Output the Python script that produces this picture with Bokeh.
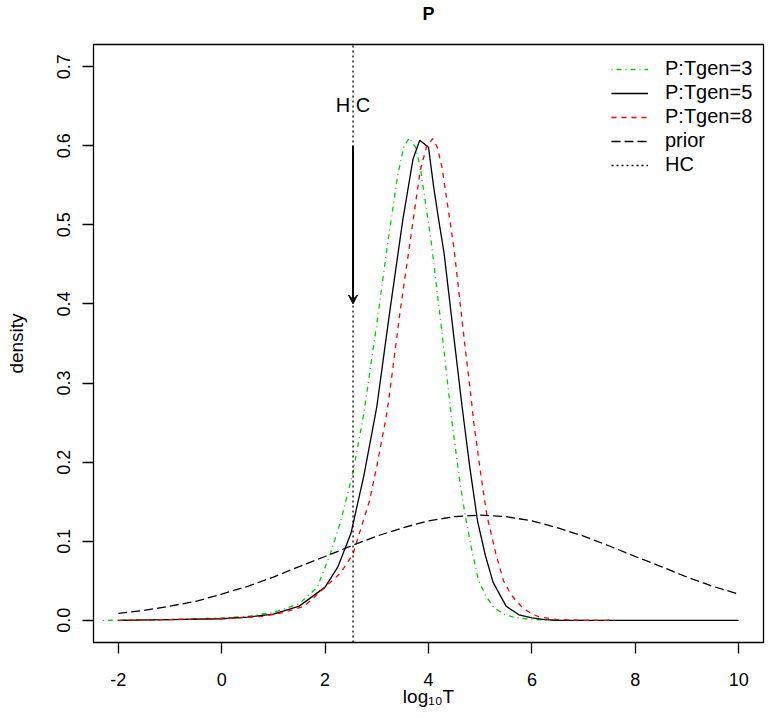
from bokeh.plotting import figure
from bokeh.models import (Range1d, FixedTicker, Arrow, VeeHead, Legend, LegendItem,
                          Title)
from bokeh.core.properties import value
from bokeh.embed import file_html
from bokeh.resources import INLINE

# ---- data ----
x_ticks = [-2, 0, 2, 4, 6, 8, 10]
y_ticks = [0.0, 0.1, 0.2, 0.3, 0.4, 0.5, 0.6, 0.7]
y_tick_labels = ["0.0", "0.1", "0.2", "0.3", "0.4", "0.5", "0.6", "0.7"]

HC = 2.54

tgen3_x = [-2.3, -1.0, 0.0, 0.5, 1.0, 1.5, 1.85, 2.1, 2.3, 2.54, 2.75, 3.0, 3.2, 3.4,
           3.52, 3.63, 3.75, 3.84, 4.05, 4.25, 4.45, 4.6, 4.71, 4.85, 4.97, 5.1, 5.26,
           5.45, 5.64, 6.0, 6.5, 7.0, 7.6]
tgen3_y = [0.0, 0.001, 0.003, 0.005, 0.010, 0.021, 0.042, 0.084, 0.125, 0.187, 0.262,
           0.375, 0.472, 0.561, 0.598, 0.610, 0.598, 0.573, 0.48, 0.37, 0.253, 0.178,
           0.1325, 0.085, 0.05, 0.032, 0.0165, 0.008, 0.004, 0.001, 0.0, 0.0, 0.0]

tgen5_x = [-2.0, -1.0, 0.0, 0.5, 1.0, 1.5, 2.0, 2.25, 2.5, 2.75, 3.0, 3.25, 3.5, 3.7,
           3.83, 4.0, 4.1, 4.2, 4.3, 4.5, 4.65, 4.8, 4.95, 5.1, 5.25, 5.5, 5.75, 6.0,
           6.25, 6.5, 7.0, 8.0, 9.0, 10.0]
tgen5_y = [0.0, 0.001, 0.002, 0.004, 0.008, 0.018, 0.042, 0.068, 0.11, 0.183, 0.27,
           0.39, 0.505, 0.583, 0.607, 0.598, 0.548, 0.505, 0.465, 0.353, 0.27, 0.193,
           0.125, 0.082, 0.048, 0.018, 0.007, 0.003, 0.001, 0.0, 0.0, 0.0, 0.0, 0.0]

tgen8_x = [-2.0, -1.0, 0.0, 0.8, 1.2, 1.6, 2.1, 2.3, 2.54, 2.86, 3.0, 3.17, 3.23, 3.45,
           3.63, 3.84, 3.96, 4.08, 4.17, 4.26, 4.49, 4.7, 4.83, 4.87, 5.0, 5.13, 5.3,
           5.45, 5.6, 5.81, 6.0, 6.16, 6.5, 7.0, 7.6]
tgen8_y = [0.0, 0.001, 0.002, 0.005, 0.010, 0.018, 0.048, 0.06, 0.084, 0.1515, 0.195,
           0.253, 0.278, 0.39, 0.472, 0.569, 0.598, 0.609, 0.598, 0.573, 0.472, 0.35,
           0.278, 0.253, 0.19, 0.1325, 0.085, 0.05, 0.032, 0.0165, 0.008, 0.004, 0.001,
           0.0, 0.0]

prior_x = [-2.0, -1.5, -1.0, -0.5, 0.0, 0.5, 1.0, 1.5, 2.0, 2.5, 3.0, 3.5, 4.0, 4.5,
           5.0, 5.5, 6.0, 6.5, 7.0, 7.5, 8.0, 8.5, 9.0, 9.5, 10.0]
prior_y = [0.0087, 0.0126, 0.0180, 0.0241, 0.0332, 0.0430, 0.0547, 0.0680, 0.0807,
           0.0940, 0.1065, 0.1170, 0.1258, 0.1311, 0.1330, 0.1311, 0.1258, 0.1170,
           0.1065, 0.0940, 0.0807, 0.0680, 0.0547, 0.0430, 0.0332]

labels = ["P:Tgen=3", "P:Tgen=5", "P:Tgen=8", "prior", "HC"]

FONT = "Liberation Sans"
GREEN = "#00CD00"
RED = "#FF0000"
LW = 1.3
X0, X1 = -2.48, 10.48
Y0, Y1 = -0.028, 0.728

p = figure(width=766, height=716, output_backend="svg", toolbar_location=None,
           x_range=Range1d(X0, X1), y_range=Range1d(Y0, Y1),
           min_border_left=93, min_border_right=3, min_border_top=44,
           min_border_bottom=74, background_fill_color="white",
           border_fill_color="white", title=None)

# spacer between frame and title, then the title itself further out
p.add_layout(Title(text=" ", text_font_size="11px", standoff=7), "above")
p.add_layout(Title(text="P", align="center", text_font=FONT, text_font_size="18px",
                   text_font_style="bold", text_color="black", standoff=0), "above")

p.grid.visible = False
p.outline_line_color = "black"
p.outline_line_width = LW

for ax in (p.xaxis[0], p.yaxis[0]):
    ax.axis_line_color = None
    ax.major_tick_in = 0
    ax.major_tick_out = 11
    ax.major_tick_line_color = "black"
    ax.major_tick_line_width = LW
    ax.minor_tick_line_color = None
    ax.major_label_text_font = FONT
    ax.major_label_text_font_size = "18px"
    ax.major_label_text_color = "black"
    ax.axis_label_text_font = FONT
    ax.axis_label_text_font_size = "19px"
    ax.axis_label_text_font_style = "normal"
    ax.axis_label_text_color = "black"

p.xaxis.ticker = FixedTicker(ticks=x_ticks)
p.xaxis.major_label_overrides = {t: str(t) for t in x_ticks}
p.xaxis.major_label_standoff = 19
p.xaxis.axis_label = "log\u2081\u2080T"
p.xaxis.axis_label_standoff = -3

p.yaxis.ticker = FixedTicker(ticks=y_ticks)
p.yaxis.major_label_overrides = {t: s for t, s in zip(y_ticks, y_tick_labels)}
p.yaxis.major_label_orientation = "vertical"
p.yaxis.major_label_standoff = 12
p.yaxis.axis_label = "density"
p.yaxis.axis_label_standoff = 28

# curves
r3 = p.line(tgen3_x, tgen3_y, line_color=GREEN, line_width=LW, line_dash="1 4 5 4")
r5 = p.line(tgen5_x, tgen5_y, line_color="black", line_width=LW)
r8 = p.line(tgen8_x, tgen8_y, line_color=RED, line_width=LW, line_dash="5 5")
rp = p.line(prior_x, prior_y, line_color="black", line_width=LW, line_dash="9 4")

# HC vertical line across the whole plot region
rhc = p.line([HC, HC], [Y0, Y1], line_color="black", line_width=LW, line_dash="2 3")

p.add_layout(Arrow(x_start=HC, y_start=0.6, x_end=HC, y_end=0.4,
                   line_color="black", line_width=2,
                   end=VeeHead(size=9, line_color="black", fill_color="black",
                               line_width=1)))

p.text(x=[HC], y=[0.651], text=["H C"], text_align="center",
       text_baseline="middle", text_font_size="20px", text_color="black",
       text_font=value(FONT))

legend = Legend(items=[LegendItem(label=labels[0], renderers=[r3]),
                       LegendItem(label=labels[1], renderers=[r5]),
                       LegendItem(label=labels[2], renderers=[r8]),
                       LegendItem(label=labels[3], renderers=[rp]),
                       LegendItem(label=labels[4], renderers=[rhc])],
                location=(518, 466), border_line_color=None,
                background_fill_alpha=0, padding=0, margin=0, spacing=1,
                glyph_width=37, glyph_height=20, label_height=20,
                label_standoff=17, label_text_font=FONT,
                label_text_font_size="20px", label_text_color="black")
p.add_layout(legend)

open("out.html", "w").write(file_html(p, INLINE))
